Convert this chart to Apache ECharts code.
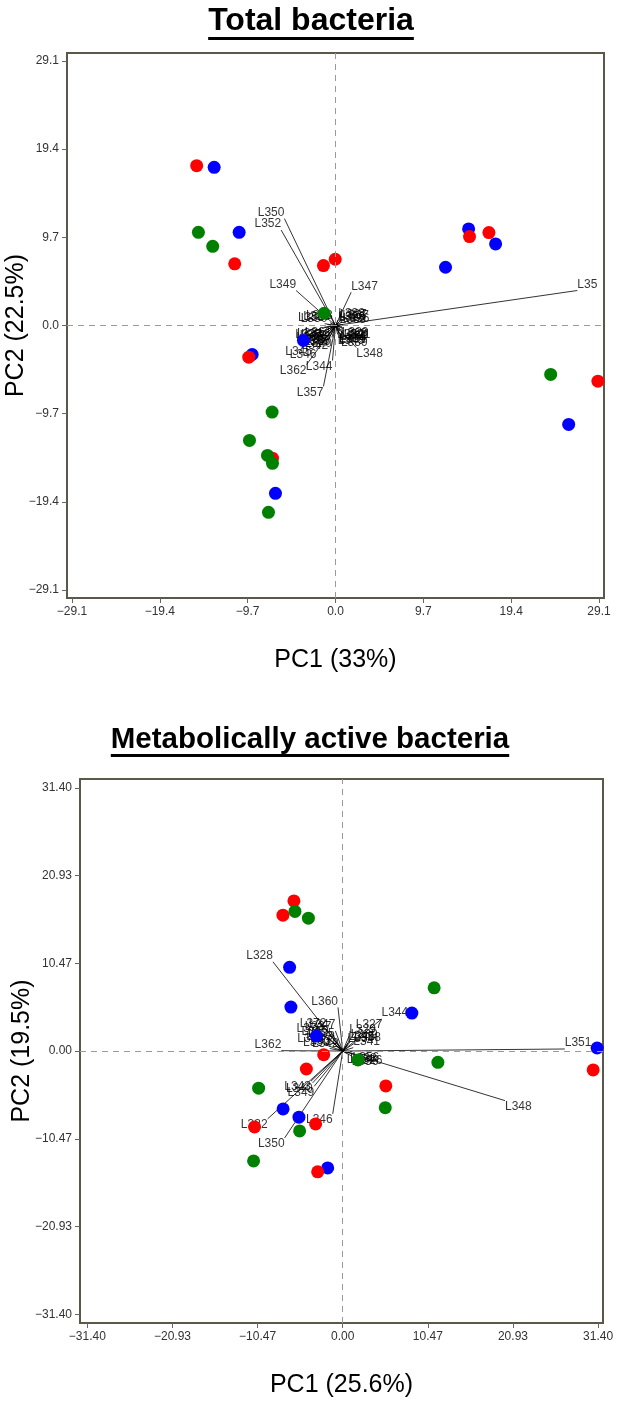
<!DOCTYPE html>
<html><head><meta charset="utf-8">
<script src="https://cdn.jsdelivr.net/npm/echarts@6/dist/echarts.min.js"></script>
<style>html,body{margin:0;padding:0;background:#fff}#c{width:618px;height:1406px}</style>
</head><body><div id="c"></div>
<script>
// ---------- data ----------
const totalTitle = 'Total bacteria';
const activeTitle = 'Metabolically active bacteria';
const totalTicks = [-29.1, -19.4, -9.7, 0, 9.7, 19.4, 29.1];
const activeTicks = [-31.40, -20.93, -10.47, 0, 10.47, 20.93, 31.40];
const totalXName = 'PC1 (33%)', totalYName = 'PC2 (22.5%)';
const activeXName = 'PC1 (25.6%)', activeYName = 'PC2 (19.5%)';

const totalRed = [[-15.33,17.58],[-11.13,6.78],[-1.33,6.59],[-0.03,7.29],[-9.58,-3.48],[-6.96,-14.6],[14.8,9.78],[16.94,10.22],[28.98,-6.12]];
const totalBlue = [[-13.4,17.4],[-10.64,10.25],[-3.54,-1.65],[-9.2,-3.19],[-6.63,-18.46],[14.7,10.63],[17.68,8.98],[12.15,6.41],[25.75,-10.88]];
const totalGreen = [[-15.14,10.25],[-13.56,8.71],[-1.25,1.35],[-7.0,-9.53],[-9.5,-12.64],[-7.51,-14.29],[-6.96,-15.16],[-7.4,-20.55],[23.76,-5.38]];

const totalLoadNames = ['L350','L352','L349','L347','L351','L348','L357','L362','L344','L346','L345',
  'L326','L330','L331','L333','L335','L337','L340','L342','L353','L355','L358','L359','L361','L364','L365','L366',
  'L327','L328','L329','L332','L334','L336','L338','L339','L341','L343','L354','L356','L360','L363','L367','L368','L369'];
const totalLoadX = [-5.64,-6.0,-4.35,1.73,26.7,2.29,-1.33,-3.2,-0.33,-2.1,-2.6,
  -0.6,-0.9,-1.3,-0.5,-1.1,-1.5,-0.4,-0.8,-0.3,-1.2,-0.7,-1.0,-0.45,-0.85,-1.4,-0.55,
  0.5,0.3,0.7,0.2,0.4,0.8,0.3,0.6,0.9,0.25,0.5,0.35,0.65,0.45,0.75,0.55,0.4];
const totalLoadY = [11.76,10.5,3.85,3.66,3.85,-2.42,-6.7,-4.3,-3.85,-2.6,-2.2,
  0.3,0.1,-0.2,-0.6,-0.9,-0.3,-1.3,-1.6,0.4,0.2,-1.0,-0.5,-0.1,-0.4,-0.7,-1.1,
  0.5,0.2,-0.1,-0.4,-0.8,0.1,0.6,-1.2,-0.3,-1.0,-0.6,0.3,-0.5,0.0,0.4,-0.2,-0.9];

const activeRed = [[-6.0,17.91],[-7.35,16.21],[-2.34,-0.44],[-4.47,-2.15],[5.30,-4.17],[-10.84,-9.06],[-3.33,-8.70],[-3.08,-14.42],[30.79,-2.26]];
const activeBlue = [[-6.53,9.98],[-6.37,5.24],[8.5,4.53],[-3.24,1.79],[-7.33,-6.91],[-5.38,-7.9],[-1.85,-13.95],[31.28,0.36]];
const activeGreen = [[-5.87,16.65],[-4.22,15.85],[11.24,7.54],[1.88,-1.07],[11.7,-1.35],[-10.34,-4.43],[5.23,-6.76],[-5.3,-9.54],[-10.96,-13.11]];

const activeLoadNames = ['L328','L360','L362','L344','L327','L351','L348','L332','L350','L346',
  'L340','L349','L343','L372','L337','L347','L355','L333','L353','L331','L330','L335','L342','L370',
  'L329','L339','L326','L336','L334','L341','L354','L338','L345','L356','L358'];
const activeLoadX = [-8.58,-0.58,-7.55,4.77,1.6,27.3,19.95,-9.24,-7.14,-1.23,
  -3.7,-3.5,-3.9,-2.0,-1.4,-0.9,-1.8,-1.2,-2.3,-0.7,-1.6,-1.0,-0.5,-2.4,
  0.8,1.0,1.6,1.1,0.6,1.3,0.5,0.9,0.7,1.2,1.4];
const activeLoadY = [10.64,5.2,0.04,3.81,2.4,0.24,-5.92,-8.1,-10.37,-7.5,
  -3.8,-4.2,-3.6,2.6,2.2,2.4,1.6,1.0,0.8,0.5,0.3,1.3,0.2,2.0,
  1.8,1.2,-0.4,-0.6,0.7,0.4,-0.3,-0.2,1.0,-0.1,0.9];

// ---------- styles ----------
const FONT = '"Liberation Sans", Arial, sans-serif';
const RED = '#ff0000', BLUE = '#0000ff', GREEN = '#008000';

function fmt(d){ return v => (v < 0 ? '\u2212' : '') + Math.abs(v).toFixed(d); }

function axis(gi, min, max, ticks, d, name, gap){
  return {
    type:'value', gridIndex:gi, min:min, max:max,
    name:name, nameLocation:'middle', nameGap:gap, nameMoveOverlap:false,
    nameTextStyle:{fontSize:25, color:'#000', fontFamily:FONT},
    splitLine:{show:false},
    axisLine:{show:false, onZero:false},
    axisTick:{show:true, inside:false, length:5, lineStyle:{color:'#666', width:1}, customValues:ticks},
    axisLabel:{show:true, fontSize:12, color:'#333', fontFamily:FONT, margin:8, formatter:fmt(d), customValues:ticks}
  };
}

function loadSeries(gi, names, xs, ys, truncateName){
  const lines = names.map((n,i)=>({coords:[[0,0],[xs[i],ys[i]]]}));
  const labels = names.map((n,i)=>{
    const item = {value:[xs[i],ys[i]], name:n,
      label:{align: xs[i] < 0 ? 'right' : 'left', verticalAlign: ys[i] >= 0 ? 'bottom' : 'top'}};
    if (n === truncateName) { item.label.width = 27; item.label.overflow = 'truncate'; item.label.ellipsis = ''; }
    return item;
  });
  return [
    {type:'lines', coordinateSystem:'cartesian2d', xAxisIndex:gi, yAxisIndex:gi, z:2, silent:true,
     polyline:false, lineStyle:{color:'#000', width:0.8, opacity:1}, data:lines,
     markLine:{silent:true, symbol:['none','none'], label:{show:false},
       lineStyle:{type:[6,5], color:'#9a9a9a', width:1},
       data:[{xAxis:0},{yAxis:0}]}},
    {type:'scatter', xAxisIndex:gi, yAxisIndex:gi, z:2, symbolSize:0, silent:true, clip:false,
     label:{show:true, position:[0,0], formatter:'{b}', fontSize:12, color:'#000', fontFamily:FONT},
     data:labels}
  ];
}

function pts(gi, data, color){
  return {type:'scatter', xAxisIndex:gi, yAxisIndex:gi, z:3, symbol:'circle', symbolSize:13, clip:false,
    itemStyle:{color:color, opacity:1}, data:data};
}

// measure title widths for underline
const F1 = 'bold 32px ' + FONT, F2 = 'bold 29.5px ' + FONT;
const ctx = document.createElement('canvas').getContext('2d');
ctx.font = F1;
const w1 = ctx.measureText(totalTitle).width;
ctx.font = F2;
const w2 = ctx.measureText(activeTitle).width;

const chart = echarts.init(document.getElementById('c'), null, {renderer:'canvas'});
chart.setOption({
  animation:false,
  backgroundColor:'#fff',
  grid:[
    {left:67, top:53, width:537, height:545, show:true, borderColor:'#5b5849', borderWidth:2, backgroundColor:'transparent', outerBoundsMode:'none', containLabel:false},
    {left:80, top:779, width:523, height:544, show:true, borderColor:'#5b5849', borderWidth:2, backgroundColor:'transparent', outerBoundsMode:'none', containLabel:false}
  ],
  xAxis:[
    axis(0, -29.65, 29.65, totalTicks, 1, totalXName, 50),
    axis(1, -32.3, 32.0, activeTicks, 2, activeXName, 50)
  ],
  yAxis:[
    axis(0, -29.98, 29.98, totalTicks, 1, totalYName, 38),
    axis(1, -32.45, 32.45, activeTicks, 2, activeYName, 45)
  ],
  graphic:[
    {type:'text', x:311, y:21, style:{text:totalTitle, font:F1, fill:'#000', align:'center', verticalAlign:'middle'}},
    {type:'rect', shape:{x:311 - w1/2, y:37, width:w1, height:3}, style:{fill:'#000'}},
    {type:'text', x:310, y:740, style:{text:activeTitle, font:F2, fill:'#000', align:'center', verticalAlign:'middle'}},
    {type:'rect', shape:{x:310 - w2/2, y:754, width:w2, height:3}, style:{fill:'#000'}}
  ],
  series:[
    ...loadSeries(0, totalLoadNames, totalLoadX, totalLoadY, 'L351'),
    pts(0, totalBlue, BLUE), pts(0, totalRed, RED), pts(0, totalGreen, GREEN),
    ...loadSeries(1, activeLoadNames, activeLoadX, activeLoadY, null),
    pts(1, activeBlue, BLUE), pts(1, activeRed, RED), pts(1, activeGreen, GREEN)
  ]
});
</script></body></html>
